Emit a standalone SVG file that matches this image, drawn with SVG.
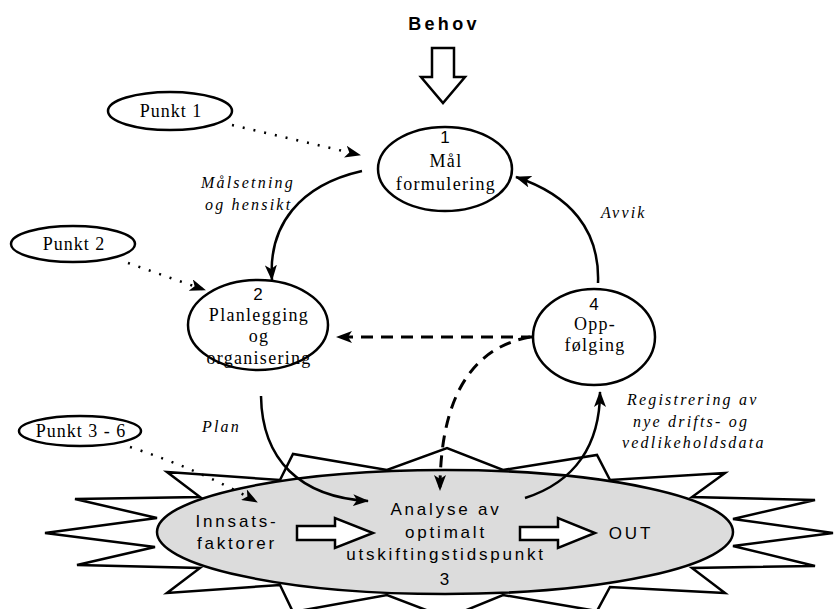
<svg xmlns="http://www.w3.org/2000/svg" width="836" height="609" viewBox="0 0 836 609">
  <style>
    .node { fill: #fff; stroke: #000; stroke-width: 2.5; }
    .serif { font-family: "Liberation Serif", "Times New Roman", serif; font-size: 18px; letter-spacing: 1.3px; fill: #000; }
    .note { font-family: "Liberation Serif", "Times New Roman", serif; font-size: 18px; letter-spacing: 1px; fill: #000; }
    .label { font-family: "Liberation Serif", "Times New Roman", serif; font-size: 16px; font-style: italic; letter-spacing: 2.2px; fill: #000; }
    .sans { font-family: "Liberation Sans", Arial, sans-serif; font-size: 17px; letter-spacing: 2.8px; fill: #000; }
    .num { font-family: "Liberation Sans", Arial, sans-serif; font-size: 17px; fill: #000; }
    .solid { fill: none; stroke: #000; stroke-width: 2.5; marker-end: url(#head); }
    .dashed { fill: none; stroke: #000; stroke-width: 3; stroke-dasharray: 12 8; marker-end: url(#head); }
    .dotted { fill: none; stroke: #000; stroke-width: 2.5; stroke-dasharray: 2 9; marker-end: url(#head); }
    .hollow { fill: #fff; stroke: #000; stroke-width: 2.5; stroke-linejoin: miter; }
  </style>
  <defs>
    <marker id="head" viewBox="0 0 16 12" refX="15" refY="6" markerWidth="16" markerHeight="12" markerUnits="userSpaceOnUse" orient="auto">
      <path d="M0,0 L16,6 L0,12 L4,6 z" fill="#000"/>
    </marker>
  </defs>

  <!-- Process 3: star burst with grey core -->
  <g id="process3">
    <polygon class="node" points="167,472 280,480 293,454 387,470 447,448 503,470 597,455 610,480 725,473 692,497 815,500 733,519 833,533 733,546 815,566 692,568 725,593 610,587 597,611 503,595 447,618 387,595 293,612 280,585 167,593 200,568 77,565 155,547 45,533 157,518 75,499 200,497"/>
    <ellipse cx="445" cy="532" rx="288" ry="62" fill="#dcdcdc" stroke="#000" stroke-width="2.5"/>
  </g>

  <!-- Demand input -->
  <g id="behov">
    <text x="444" y="30" text-anchor="middle" font-family="Liberation Sans, Arial, sans-serif" font-size="18" font-weight="bold" letter-spacing="3.3">Behov</text>
    <polygon class="hollow" points="432,48 454,48 454,77 465,77 443,103 421,77 432,77"/>
  </g>

  <!-- Main cycle nodes -->
  <g id="node1">
    <ellipse class="node" cx="445" cy="169" rx="67" ry="42"/>
    <text class="num" x="445" y="143" text-anchor="middle">1</text>
    <text class="serif" x="446" y="167" text-anchor="middle">Mål</text>
    <text class="serif" x="446" y="190" text-anchor="middle">formulering</text>
  </g>

  <g id="node2">
    <ellipse class="node" cx="258" cy="325" rx="70" ry="45"/>
    <text class="num" x="258" y="300" text-anchor="middle">2</text>
    <text class="serif" x="259" y="321" text-anchor="middle">Planlegging</text>
    <text class="serif" x="259" y="342" text-anchor="middle">og</text>
    <text class="serif" x="259" y="364" text-anchor="middle">organisering</text>
  </g>

  <g id="node4">
    <ellipse class="node" cx="594" cy="337" rx="61" ry="48"/>
    <text class="num" x="594" y="310" text-anchor="middle">4</text>
    <text class="serif" x="595" y="330" text-anchor="middle">Opp-</text>
    <text class="serif" x="595" y="351" text-anchor="middle">følging</text>
  </g>

  <!-- Checkpoint notes -->
  <g id="punkt1">
    <ellipse class="node" cx="170" cy="111" rx="62" ry="19"/>
    <text class="note" x="171" y="117" text-anchor="middle">Punkt 1</text>
  </g>
  <g id="punkt2">
    <ellipse class="node" cx="73" cy="244" rx="62" ry="18"/>
    <text class="note" x="74" y="250" text-anchor="middle">Punkt 2</text>
  </g>
  <g id="punkt3-6">
    <ellipse class="node" cx="80" cy="431" rx="61" ry="15"/>
    <text class="note" x="81" y="437" text-anchor="middle">Punkt 3 - 6</text>
  </g>

  <!-- Connectors -->
  <g id="connectors">
    <path class="solid" d="M362,171 C300,185 268,225 272,280"/>
    <path class="solid" d="M598,283 C600,230 570,195 516,177"/>
    <path class="solid" d="M261,396 C262,460 300,497 368,501"/>
    <path class="solid" d="M525,498 C575,482 600,445 600,392"/>
    <path class="dashed" d="M533,337 L337,337"/>
    <path class="dashed" d="M530,337 C470,348 440,400 440,490"/>
    <path class="dotted" d="M232,125 L360,155"/>
    <path class="dotted" d="M128,263 L205,290"/>
    <path class="dotted" d="M130,447 Q200,470 257,502"/>
  </g>

  <!-- Connector labels -->
  <g id="labels">
    <text class="label" x="201" y="188">Målsetning</text>
    <text class="label" x="205" y="210">og hensikt</text>
    <text class="label" x="601" y="218">Avvik</text>
    <text class="label" x="202" y="432">Plan</text>
    <text class="label" x="627" y="405">Registrering av</text>
    <text class="label" x="633" y="427">nye drifts- og</text>
    <text class="label" x="622" y="448">vedlikeholdsdata</text>
  </g>

  <!-- Contents of process 3 -->
  <g id="process3-content">
    <text class="sans" x="237" y="527" text-anchor="middle">Innsats-</text>
    <text class="sans" x="237" y="549" text-anchor="middle">faktorer</text>
    <polygon class="hollow" points="297,526 335,526 335,518 373,533 335,548 335,540 297,540"/>
    <text class="sans" x="446" y="515" text-anchor="middle">Analyse av</text>
    <text class="sans" x="446" y="538" text-anchor="middle">optimalt</text>
    <text class="sans" x="446" y="560" text-anchor="middle">utskiftingstidspunkt</text>
    <text class="sans" x="446" y="585" text-anchor="middle">3</text>
    <polygon class="hollow" points="520,527 558,527 558,518 595,533 558,548 558,540 520,540"/>
    <text class="sans" x="631" y="539" text-anchor="middle">OUT</text>
  </g>
</svg>
